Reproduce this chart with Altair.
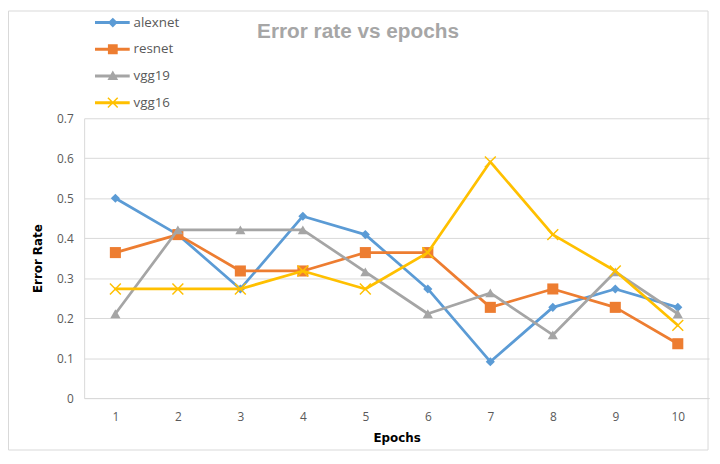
import altair as alt
import pandas as pd

# ---- data ----
epochs = [1, 2, 3, 4, 5, 6, 7, 8, 9, 10]
series_names = ["alexnet", "resnet", "vgg19", "vgg16"]
alexnet = [0.500, 0.409, 0.273, 0.455, 0.409, 0.273, 0.091, 0.227, 0.273, 0.227]
resnet = [0.364, 0.409, 0.318, 0.318, 0.364, 0.364, 0.227, 0.273, 0.227, 0.136]
vgg19 = [0.211, 0.421, 0.421, 0.421, 0.316, 0.211, 0.263, 0.158, 0.316, 0.211]
vgg16 = [0.273, 0.273, 0.273, 0.318, 0.273, 0.364, 0.591, 0.409, 0.318, 0.182]
y_ticks = [0, 0.1, 0.2, 0.3, 0.4, 0.5, 0.6, 0.7]
title_text = "Error rate vs epochs"
x_title = "Epochs"
y_title = "Error Rate"

# ---- styles ----
colors = ["#5B9BD5", "#ED7D31", "#A5A5A5", "#FFC000"]
X_PATH = "M-1,-1L1,1M-1,1L1,-1"
marker_styles = [
    dict(shape="diamond", filled=True, size=85),
    dict(shape="square", filled=True, size=125),
    dict(shape="triangle-up", filled=True, size=105),
    dict(shape=X_PATH, filled=False, size=121, strokeWidth=1.5),
]
LINE = "M-1,-0.17H2.9V0.17H-1Z "
legend_paths = [
    LINE + "M1,-0.55L1.55,0L1,0.55L0.45,0Z",
    LINE + "M0.45,-0.55H1.55V0.55H0.45Z",
    LINE + "M1,-0.6L1.6,0.45H0.4Z",
    LINE + "M0.509,-0.609L1.609,0.491L1.491,0.609L0.391,-0.491Z "
    "M1.491,-0.609L1.609,-0.491L0.509,0.609L0.391,0.491Z",
]

values = [alexnet, resnet, vgg19, vgg16]
rows = []
for name, vals in zip(series_names, values):
    for e, v in zip(epochs, vals):
        rows.append({"series": name, "epoch": e, "rate": v})
df = pd.DataFrame(rows)

W, H = 632, 283

x_enc = alt.X(
    "epoch:O",
    title=x_title,
    axis=alt.Axis(
        labelAngle=0, ticks=False, tickSize=0, labelPadding=19,
        labelBaseline="middle", grid=False, domainColor="#d9d9d9",
        titleY=40, titleBaseline="middle",
    ),
)
y_enc = alt.Y(
    "rate:Q",
    title=y_title,
    scale=alt.Scale(domain=[0, 0.7], nice=False, zero=True),
    axis=alt.Axis(
        values=y_ticks, format=".1~f", ticks=False, tickSize=0, labelPadding=11,
        grid=True, gridColor="#d9d9d9", domainColor="#d9d9d9",
        titleX=-47, titleY=H / 2, titleAngle=270, titleAlign="center",
        titleBaseline="middle",
    ),
)

base = alt.Chart(df)
layers = []

# outer chart border (decoration)
border = alt.Chart(alt.Data(values=[{}])).mark_rect(
    fill=None, stroke="#d9d9d9", strokeWidth=1
).encode(
    x=alt.value(-76.5), x2=alt.value(631), y=alt.value(-108.5), y2=alt.value(335.5)
)
layers.append(border)

for name, col, ms in zip(series_names, colors, marker_styles):
    sub = base.transform_filter(alt.datum.series == name)
    line = sub.mark_line(
        color=col, strokeWidth=2.75, strokeJoin="round", strokeCap="round"
    ).encode(x=x_enc, y=y_enc)
    pt_kwargs = dict(shape=ms["shape"], filled=ms["filled"], size=ms["size"], opacity=1)
    if ms["filled"]:
        pt_kwargs["color"] = col
    else:
        pt_kwargs["stroke"] = col
        pt_kwargs["strokeWidth"] = ms["strokeWidth"]
    pts = sub.mark_point(**pt_kwargs).encode(x=x_enc, y=y_enc)
    layers += [line, pts]

legend_cfg = alt.Legend(
    title=None, orient="none", legendX=11, legendY=-105.8, padding=0,
    symbolSize=324, symbolStrokeWidth=0, symbolOpacity=1, labelOffset=21,
    rowPadding=11, labelFont="Open Sans", labelFontSize=13.5, labelColor="#595959",
)
legend_layer = base.mark_point(filled=True, opacity=0).encode(
    x=x_enc, y=y_enc,
    color=alt.Color("series:N", scale=alt.Scale(domain=series_names, range=colors),
                    legend=legend_cfg),
    shape=alt.Shape("series:N", scale=alt.Scale(domain=series_names, range=legend_paths),
                    legend=legend_cfg),
)
layers.append(legend_layer)

title_layer = alt.Chart(alt.Data(values=[{"t": title_text}])).mark_text(
    font="Liberation Sans", fontSize=21, fontWeight="bold", color="#A6A6A6",
    align="center", baseline="alphabetic",
).encode(text="t:N", x=alt.value(277), y=alt.value(-81))
layers.append(title_layer)

chart = alt.layer(*layers).properties(
    width=W, height=H,
    autosize=alt.AutoSizeParams(type="none"),
    padding={"left": 77, "top": 109, "right": 3, "bottom": 53},
    background="white",
).configure_view(stroke=None).configure_axis(
    labelFont="Open Sans", labelFontSize=12, labelColor="#595959",
    titleFont="DejaVu Sans", titleFontSize=12, titleFontWeight="bold", titleColor="#000000",
)

chart.save("out.html", embed_options={"renderer": "svg", "actions": False})
